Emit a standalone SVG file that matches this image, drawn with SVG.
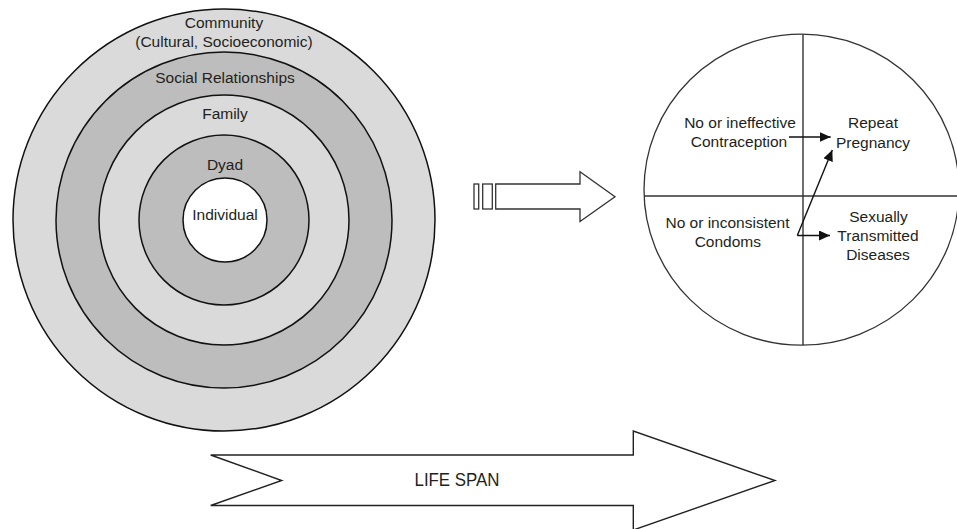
<svg xmlns="http://www.w3.org/2000/svg" width="957" height="529" viewBox="0 0 957 529">
<style>
  .t { font-family: "Liberation Sans", Arial, sans-serif; font-size: 15.5px; fill: #231f20; text-anchor: middle; }
  .ring { stroke: #111; stroke-width: 1.5; }
  .light { fill: #dadada; }
  .dark { fill: #bdbdbd; }
  .thin { fill: #fff; stroke: #333; stroke-width: 1.3; }
  .conn { stroke: #111; stroke-width: 1.4; fill: none; }
</style>
<defs>
  <marker id="ah" markerUnits="userSpaceOnUse" markerWidth="11" markerHeight="10" refX="11" refY="5" orient="auto">
    <path d="M0,0 L11,5 L0,10 z" fill="#111"/>
  </marker>
</defs>
<rect width="957" height="529" fill="#fff"/>

<g id="community">
  <circle class="ring light" cx="224" cy="220" r="211"/>
  <text class="t" x="224" y="28">Community</text>
  <text class="t" x="224" y="47">(Cultural, Socioeconomic)</text>
</g>
<g id="social-relationships">
  <circle class="ring dark" cx="224" cy="220" r="168"/>
  <text class="t" x="225" y="83">Social Relationships</text>
</g>
<g id="family">
  <circle class="ring light" cx="224" cy="220" r="125"/>
  <text class="t" x="225" y="119">Family</text>
</g>
<g id="dyad">
  <circle class="ring dark" cx="224" cy="220" r="85"/>
  <text class="t" x="225" y="170">Dyad</text>
</g>
<g id="individual">
  <circle class="ring" fill="#fff" cx="225" cy="220" r="42"/>
  <text class="t" x="225" y="220">Individual</text>
</g>

<g id="small-arrow">
  <rect class="thin" x="474" y="184" width="4.7" height="25"/>
  <rect class="thin" x="482.7" y="184" width="9.6" height="25"/>
  <polygon class="thin" points="495.7,184 580,184 580,171.7 615,196.7 580,221.5 580,209 495.7,209"/>
</g>

<g id="outcomes">
  <ellipse cx="801.5" cy="189.7" rx="157.5" ry="155.5" fill="#fff" stroke="#333" stroke-width="1.3"/>
  <line x1="803" y1="34.5" x2="803" y2="345" stroke="#222" stroke-width="1.3"/>
  <line x1="644" y1="196" x2="959" y2="196" stroke="#333" stroke-width="1.5"/>
</g>
<g id="no-contraception">
  <text class="t" x="740" y="128">No or ineffective</text>
  <text class="t" x="739" y="147">Contraception</text>
</g>
<g id="no-condoms">
  <text class="t" x="727.5" y="228">No or inconsistent</text>
  <text class="t" x="727.8" y="247">Condoms</text>
</g>
<g id="repeat-pregnancy">
  <text class="t" x="873" y="128">Repeat</text>
  <text class="t" x="873" y="147.5">Pregnancy</text>
</g>
<g id="sti">
  <text class="t" x="878.5" y="221.5">Sexually</text>
  <text class="t" x="878" y="240.5">Transmitted</text>
  <text class="t" x="878" y="260">Diseases</text>
</g>

<g id="connectors">
  <line class="conn" x1="789" y1="137" x2="830.7" y2="137" marker-end="url(#ah)"/>
  <line class="conn" x1="797.3" y1="235.5" x2="832.3" y2="150" marker-end="url(#ah)"/>
  <line class="conn" x1="797.3" y1="235.5" x2="830" y2="235.5" marker-end="url(#ah)"/>
</g>

<g id="life-span">
  <polygon points="210.7,455 633.3,455 633.3,431 775,480.5 633.3,530 633.3,505.5 210.7,505.5 281.7,480.5" fill="#fff" stroke="#222" stroke-width="1.4"/>
  <text x="457" y="486" font-family="'Liberation Sans', Arial, sans-serif" font-size="17.5" fill="#231f20" text-anchor="middle" textLength="85" lengthAdjust="spacingAndGlyphs">LIFE SPAN</text>
</g>
</svg>
